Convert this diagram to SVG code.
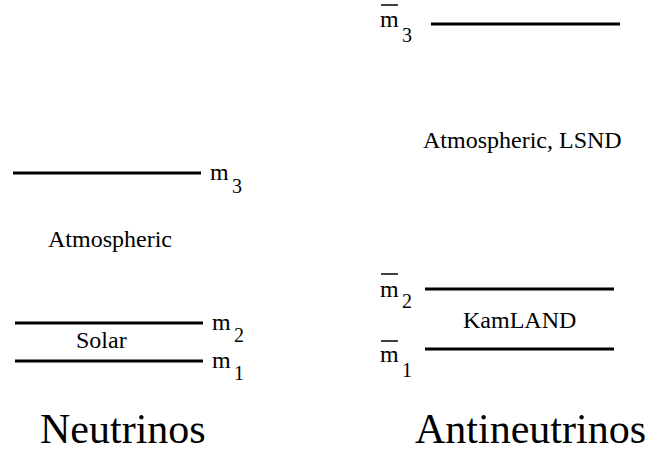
<svg xmlns="http://www.w3.org/2000/svg" width="647" height="452" viewBox="0 0 647 452">
<style>
.lvl{stroke:#000;stroke-width:3;fill:none}
.ob{stroke:#000;stroke-width:1.5;fill:none}
.s,.m,.sub,.big{font-family:"Liberation Serif","Times New Roman",Times,serif;fill:#000}
.s{font-size:24px}
.m{font-size:24px}
.sub{font-size:20px}
.big{font-size:42px}
</style>
<rect width="647" height="452" fill="#fff"/>
<g id="connectors">
<line class="lvl" x1="13" y1="173" x2="201" y2="173"/>
<line class="lvl" x1="15" y1="323" x2="203" y2="323"/>
<line class="lvl" x1="15" y1="361" x2="203" y2="361"/>
<line class="lvl" x1="431" y1="24" x2="620" y2="24"/>
<line class="lvl" x1="425" y1="289" x2="614" y2="289"/>
<line class="lvl" x1="425" y1="349" x2="614" y2="349"/>
</g>
<g id="nu-m3"><text class="m" x="210" y="180" font-family="Liberation Serif, serif">m</text><text class="sub" x="232" y="193" font-family="Liberation Serif, serif">3</text></g>
<g id="nu-atm"><text class="s" x="48" y="247" font-family="Liberation Serif, serif">Atmospheric</text></g>
<g id="nu-m2"><text class="m" x="212" y="330" font-family="Liberation Serif, serif">m</text><text class="sub" x="234" y="342" font-family="Liberation Serif, serif">2</text></g>
<g id="nu-solar"><text class="s" x="76" y="348" font-family="Liberation Serif, serif">Solar</text></g>
<g id="nu-m1"><text class="m" x="212" y="368" font-family="Liberation Serif, serif">m</text><text class="sub" x="234" y="380" font-family="Liberation Serif, serif">1</text></g>
<g id="nu-title"><text class="big" x="40" y="443" font-family="Liberation Serif, serif">Neutrinos</text></g>
<g id="anu-m3"><line class="ob" x1="381" y1="5" x2="398" y2="5"/><text class="m" x="380" y="27" font-family="Liberation Serif, serif">m</text><text class="sub" x="402" y="42" font-family="Liberation Serif, serif">3</text></g>
<g id="anu-atm"><text class="s" x="423" y="148" font-family="Liberation Serif, serif">Atmospheric, LSND</text></g>
<g id="anu-m2"><line class="ob" x1="381" y1="274" x2="398" y2="274"/><text class="m" x="380" y="297" font-family="Liberation Serif, serif">m</text><text class="sub" x="402" y="308" font-family="Liberation Serif, serif">2</text></g>
<g id="anu-kam"><text class="s" x="463" y="328" font-family="Liberation Serif, serif">KamLAND</text></g>
<g id="anu-m1"><line class="ob" x1="381" y1="341" x2="398" y2="341"/><text class="m" x="380" y="362" font-family="Liberation Serif, serif">m</text><text class="sub" x="402" y="377" font-family="Liberation Serif, serif">1</text></g>
<g id="anu-title"><text class="big" x="415" y="443" font-family="Liberation Serif, serif">Antineutrinos</text></g>
</svg>
